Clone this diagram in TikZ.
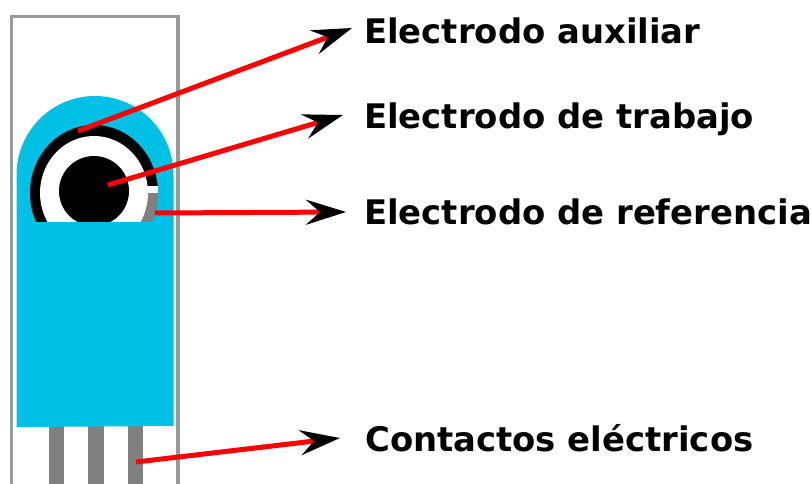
\documentclass[tikz,border=0pt]{standalone}
\usepackage{fontspec}
\setmainfont{DejaVu Sans}
\usetikzlibrary{arrows.meta}
\definecolor{sensorblue}{HTML}{00C0E6}
\definecolor{contactgray}{HTML}{808080}
\definecolor{framegray}{HTML}{999999}
\tikzset{
  x=1pt,y=-1pt,
  lbl/.style={anchor=base west,inner sep=0pt,font=\bfseries\fontsize{33.85pt}{37pt}\selectfont,text=black},
  pointer/.style={draw=red,line width=5pt,-{Stealth[length=40pt,width=25pt,inset=14pt,color=black]}},
  contact/.style={fill=contactgray,draw=none},
}
\begin{document}
\begin{tikzpicture}
\useasboundingbox (0,0) rectangle (811,484);
\clip (0,0) rectangle (811,484);
\fill[white] (0,0) rectangle (811,484);
% frame
\draw[framegray,line width=3.4pt] (11.5,490) -- (11.5,16.5) -- (178,16.5) -- (178,490);
% contacts
\fill[contact] (48.5,420) rectangle (64,484);
\fill[contact] (88,420) rectangle (103.5,484);
\fill[contact] (127.5,420) rectangle (143,484);
% body
\fill[sensorblue] (16.5,427) -- (16.5,175) arc[start angle=180,end angle=0,x radius=78.5,y radius=-79] -- (173.5,426) -- cycle;
% electrodes
\begin{scope}
\clip (0,0) rectangle (811,221);
\begin{scope}
\clip (0,0) rectangle (811,186);
\fill[black] (94,193) ellipse[x radius=64,y radius=68];
\end{scope}
\begin{scope}
\clip (0,186) rectangle (94,221);
\fill[black] (94,193) ellipse[x radius=64,y radius=68];
\end{scope}
\begin{scope}
\clip (94,193) rectangle (811,221);
\fill[contactgray] (94,193) ellipse[x radius=64,y radius=68];
\end{scope}
\fill[white] (94,193) ellipse[x radius=54,y radius=57];
\fill[white] (140,186) rectangle (158,193);
\fill[black] (94,191) circle[radius=35];
\end{scope}
% labels
\node[lbl] (aux) at (364,44) {Electrodo auxiliar};
\node[lbl] (trab) at (364,129) {Electrodo de trabajo};
\node[lbl] (ref) at (364,224.5) {Electrodo de referencia};
\node[lbl] (cont) at (365,451) {Contactos eléctricos};
% pointers
\coordinate (a0) at (78,131);  \coordinate (a1) at (352,28);
\coordinate (b0) at (108,185); \coordinate (b1) at (343,115);
\coordinate (c0) at (155,213); \coordinate (c1) at (346,212);
\coordinate (d0) at (136,462); \coordinate (d1) at (340,438);
\draw[pointer] (a0) -- (a1);
\draw[pointer] (b0) -- (b1);
\draw[pointer] (c0) -- (c1);
\draw[pointer] (d0) -- (d1);
\end{tikzpicture}
\end{document}
